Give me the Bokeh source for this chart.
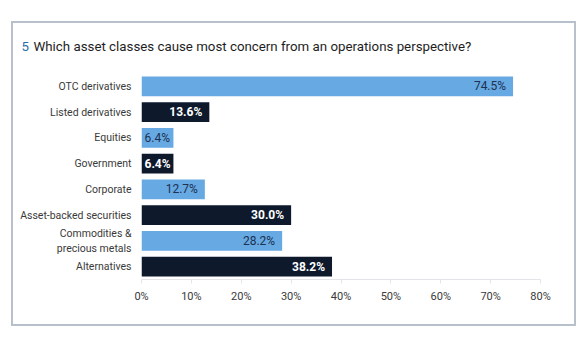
from bokeh.plotting import figure
from bokeh.models import ColumnDataSource, FactorRange, Range1d, FixedTicker, Label, CustomJSTickFormatter
from bokeh.embed import file_html
from bokeh.resources import INLINE
from bokeh.core.properties import value

categories = ["OTC derivatives", "Listed derivatives", "Equities", "Government",
              "Corporate", "Asset-backed securities", "Commodities &\nprecious metals",
              "Alternatives"]
values = [74.5, 13.6, 6.4, 6.4, 12.7, 30.0, 28.2, 38.2]
shade = ["light", "dark", "light", "dark", "light", "dark", "light", "dark"]
ticks = [0, 10, 20, 30, 40, 50, 60, 70, 80]
title_num = "5"
title_text = "Which asset classes cause most concern from an operations perspective?"

FONT = "Roboto"
LIGHT = "#67a9e3"
DARK = "#0e1a2c"

p = figure(width=565, height=305, y_range=FactorRange(*reversed(categories), range_padding=0),
           x_range=Range1d(0, 80), output_backend="svg", toolbar_location=None,
           min_border_left=128, min_border_right=38, min_border_top=50, min_border_bottom=49,
           styles={"border": "2px solid #b7c0cb", "margin-left": "11px", "margin-top": "21px"})
p.outline_line_color = None
p.xgrid.grid_line_color = None
p.ygrid.grid_line_color = None

def rows(kind):
    idx = [i for i, s in enumerate(shade) if s == kind]
    v = [values[i] for i in idx]
    return dict(cat=[categories[i] for i in idx], val=v,
                label=["%.1f%%" % x for x in v],
                lx=[x if x >= 8 else 0 for x in v],
                align=["right" if x >= 8 else "left" for x in v],
                xoff=[-7 if x >= 8 else 3 for x in v])

for kind, col, tcol, weight in [("light", LIGHT, "#1d3150", "normal"), ("dark", DARK, "#ffffff", "bold")]:
    src = ColumnDataSource(rows(kind))
    p.hbar(y="cat", right="val", left=0, height=0.76, source=src, fill_color=col, line_color=None)
    p.text(x="lx", y="cat", text="label", source=src, text_align="align", x_offset="xoff",
           text_baseline="middle", text_color=tcol, text_font=value(FONT),
           text_font_size="12px", text_font_style=weight)

p.xaxis.ticker = FixedTicker(ticks=ticks)
p.xaxis.formatter = CustomJSTickFormatter(code="return tick + '%';")
p.xaxis.axis_line_color = "#e2e4e8"
p.xaxis.major_tick_line_color = "#e2e4e8"
p.xaxis.major_tick_in = 0
p.xaxis.major_tick_out = 4
p.xaxis.minor_tick_line_color = None
p.xaxis.major_label_text_font = FONT
p.xaxis.major_label_text_font_size = "11px"
p.xaxis.major_label_text_color = "#3a3a3a"
p.xaxis.major_label_standoff = 6

p.yaxis.axis_line_color = None
p.yaxis.major_tick_line_color = None
p.yaxis.minor_tick_line_color = None
p.yaxis.major_tick_in = 0
p.yaxis.major_tick_out = 0
p.yaxis.major_label_text_font = FONT
p.yaxis.major_label_text_font_size = "10.5px"
p.yaxis.major_label_text_color = "#3a3a3a"
p.yaxis.major_label_standoff = 10

p.add_layout(Label(x=-108, y=27, x_units="screen", y_units="screen", text=title_text,
                   text_baseline="alphabetic",
                   text_font=FONT, text_font_size="13.3px", text_color="#1e1e1e"), "above")
p.add_layout(Label(x=-120, y=12, x_units="screen", y_units="screen", text=title_num,
                   text_baseline="alphabetic",
                   text_font=FONT, text_font_size="13.3px", text_color="#2a6fa8"), "above")

open("out.html", "w").write(file_html(p, INLINE))
